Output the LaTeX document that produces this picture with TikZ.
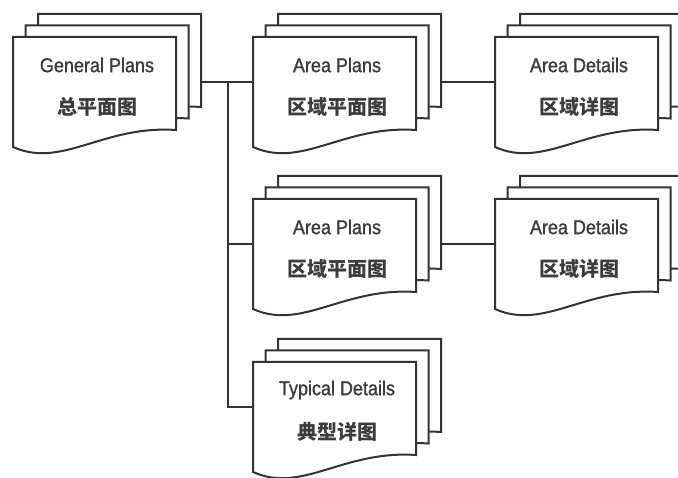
\documentclass[tikz,border=0pt]{standalone}
\usepackage{fontspec}
\newfontfamily\enfont[FakeStretch=0.9,FakeBold=1.2]{Liberation Sans}
\newfontfamily\zhfont{Noto Sans CJK SC}
\definecolor{ink}{HTML}{333333}
\definecolor{txt}{HTML}{3C3C3C}
\tikzset{
  sheet/.style={draw=ink, line width=2pt, fill=white, line join=miter},
  conn/.style={draw=ink, line width=2pt},
  entext/.style={text=txt, font=\enfont\fontsize{20}{22}\selectfont, inner sep=0pt},
  zhtext/.style={text=txt, font=\zhfont\bfseries\fontsize{20}{22}\selectfont, inner sep=0pt},
}
\newcommand\docstack[5]{%
  \foreach \dx/\dy in {25/-23,12.5/-11.5,0/0}{%
    \draw[sheet,shift={(#2+\dx,#3+\dy)}] (0,0) -- (163,0) -- (163,93)
      .. controls (90,88) and (49,132) .. (0,110) -- cycle;
  }
  \node[entext] (#1-en) at (#2+84,#3+28) {#4};
  \node[zhtext] (#1-zh) at (#2+84,#3+70) {#5};
  \coordinate (#1-in) at (#2,#3+45);
  \coordinate (#1-out) at (#2+188,#3+45);
}
\begin{document}
\begin{tikzpicture}[x=1pt,y=-1pt]
\fill[white] (0,0) rectangle (678,478);
\clip (0,0) rectangle (678,478);
\coordinate (jx) at (228,0);
\docstack{b1}{13}{37}{General Plans}{总平面图}
\docstack{b2}{253}{37}{Area Plans}{区域平面图}
\docstack{b3}{495}{37}{Area Details}{区域详图}
\docstack{b4}{253}{199}{Area Plans}{区域平面图}
\docstack{b5}{253}{362}{Typical Details}{典型详图}
\docstack{b6}{495}{199}{Area Details}{区域详图}
\draw[conn] (b1-out) -- (b2-in);
\draw[conn] (b2-out) -- (b3-in);
\draw[conn] (b4-out) -- (b6-in);
\draw[conn] (jx |- b1-out) -- (jx |- b5-in) -- (b5-in);
\draw[conn] (jx |- b4-in) -- (b4-in);
\end{tikzpicture}
\end{document}
